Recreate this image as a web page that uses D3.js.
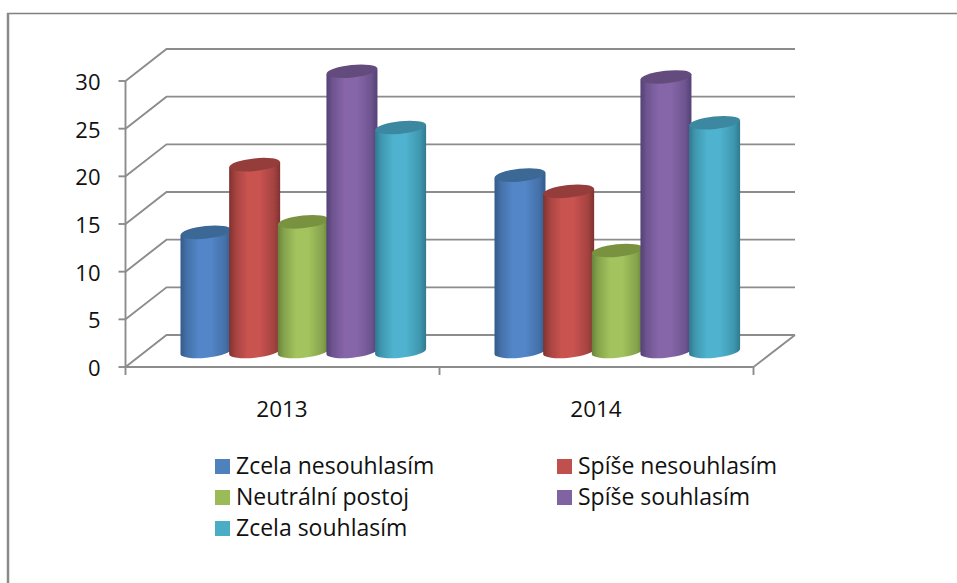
<!DOCTYPE html>
<html><head><meta charset="utf-8">
<script src="https://cdn.jsdelivr.net/npm/d3@7"></script>
<style>html,body{margin:0;padding:0;background:#fff}svg{display:block}text{font-family:"Open Sans",Lato,sans-serif;fill:#111}</style>
</head><body><div id="c"></div>
<script>
const categories = ["2013","2014"];
const seriesNames = ["Zcela nesouhlasím","Spíše nesouhlasím","Neutrální postoj","Spíše souhlasím","Zcela souhlasím"];
const values2013 = [12.5,19.6,13.6,29.4,23.5];
const values2014 = [18.5,16.8,10.6,28.8,24.0];
const yTicks = [0,5,10,15,20,25,30];
const legendColors = ["#4f81bd","#c0504d","#9bbb59","#8064a2","#4bacc6"];
const edgeColors = ["#345a88","#7f3230","#68833a","#534175","#2f7a8e"];
const midColors  = ["#5386c8","#c95350","#a2c35d","#8666a9","#4fb3cf"];
const topColors  = ["#3b6795","#953c3a","#79923f","#634c7e","#3a88a0"];

const W=957,H=583;
const svg=d3.select("#c").append("svg").attr("width",W).attr("height",H);
const defs=svg.append("defs");
defs.append("filter").attr("id","soft").attr("x","-5%").attr("y","-5%").attr("width","110%").attr("height","110%")
  .append("feGaussianBlur").attr("stdDeviation",0.5);
const y=d3.scaleLinear().domain([0,30]).range([367,81]);
const x0=d3.scaleBand().domain(categories).range([125.5,753.5]);
const x1=d3.scalePoint().domain(seriesNames).range([55,249.6]);
const dx=41,dy=-32, grid="#8c8c8c";
const barW=51, rx=25.5, ry=6.3, tilt=-6;
const baseLift=15.5;

// frame of the page
svg.append("line").attr("x1",7).attr("x2",W).attr("y1",13.5).attr("y2",13.5).attr("stroke","#808080").attr("stroke-width",1.5);
svg.append("line").attr("x1",8).attr("x2",8).attr("y1",13).attr("y2",H).attr("stroke","#8a8a8a").attr("stroke-width",2.5);

// walls
const left=x0.range()[0], right=x0.range()[1];
const walls=svg.append("g").attr("stroke",grid).attr("stroke-width",1.9).attr("fill","none").attr("filter","url(#soft)");
yTicks.forEach(t=>{
  walls.append("path").attr("d",d3.line()([[left,y(t)],[left+dx,y(t)+dy],[right+dx+0.5,y(t)+dy]]));
  walls.append("line").attr("x1",left-7).attr("x2",left).attr("y1",y(t)).attr("y2",y(t));
});
walls.append("line").attr("x1",left).attr("x2",left).attr("y1",y(30)).attr("y2",y(0));
walls.append("line").attr("x1",left).attr("x2",right).attr("y1",y(0)).attr("y2",y(0));
walls.append("line").attr("x1",right).attr("x2",right+dx+0.5).attr("y1",y(0)).attr("y2",y(0)+dy);
[left,left+x0.step(),right].forEach(v=>walls.append("line").attr("x1",v).attr("x2",v).attr("y1",y(0)).attr("y2",y(0)+8));

// tick labels
svg.append("g").selectAll("text").data(yTicks).join("text")
  .attr("x",100.5).attr("y",d=>y(d)+1).attr("dy","0.36em").attr("text-anchor","end")
  .attr("font-size",22).text(d=>d);
svg.append("g").selectAll("text").data(categories).join("text")
  .attr("x",d=>x0(d)+x0.bandwidth()/2-0.5).attr("y",417).attr("text-anchor","middle")
  .attr("font-size",22.5).text(d=>d);

// gradients
seriesNames.forEach((s,i)=>{
  const g=defs.append("linearGradient").attr("id","g"+i).attr("x1","0").attr("x2","1").attr("y1","0").attr("y2","0");
  const mix=d3.interpolateRgb(edgeColors[i],midColors[i]);
  [[0,edgeColors[i]],[.12,mix(.5)],[.36,midColors[i]],[.6,midColors[i]],[.88,mix(.5)],[1,edgeColors[i]]]
    .forEach(([o,c])=>g.append("stop").attr("offset",o).attr("stop-color",c));
});

// bars
const rows=[values2013,values2014];
const shift=rx*Math.sin(-tilt*Math.PI/180);
const bars=svg.append("g").attr("filter","url(#soft)");
categories.forEach((c,ci)=>{
  rows[ci].forEach((v,i)=>{
    const xl=x0(c)+x1(seriesNames[i]), xr=xl+barW;
    const yb=y(0)-baseLift, yt=y(v)-baseLift;
    const arc=`A${rx} ${ry} ${tilt} 0 0 `;
    bars.append("path").attr("fill",`url(#g${i})`)
      .attr("d",`M${xl} ${yt+shift}L${xl} ${yb+shift}${arc}${xr} ${yb-shift}L${xr} ${yt-shift}Z`);
    bars.append("ellipse").attr("cx",(xl+xr)/2).attr("cy",yt).attr("rx",rx).attr("ry",ry)
      .attr("transform",`rotate(${tilt} ${(xl+xr)/2} ${yt})`).attr("fill",topColors[i]);
  });
});

// legend
const legX=[215,557], legBottom=[474,505,536];
seriesNames.forEach((s,i)=>{
  const lx=legX[i%2], by=legBottom[Math.floor(i/2)];
  svg.append("rect").attr("x",lx).attr("y",by-15).attr("width",15).attr("height",15).attr("fill",legendColors[i]);
  svg.append("text").attr("x",lx+21).attr("y",by).attr("font-size",23).text(s);
});
</script></body></html>
